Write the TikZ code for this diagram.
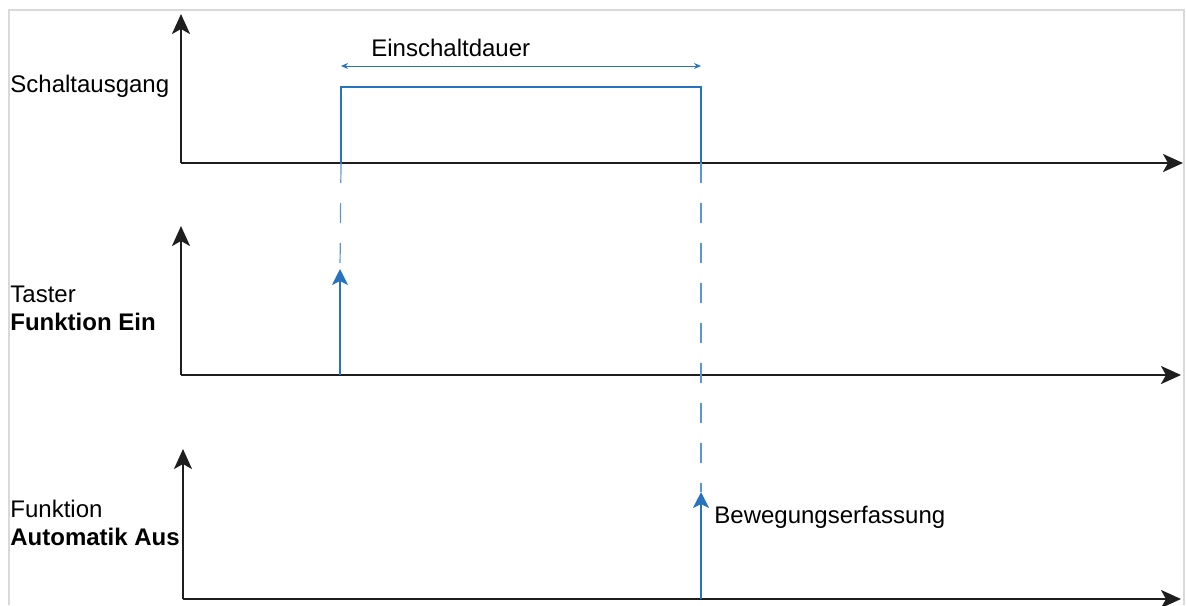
\documentclass[tikz,border=0pt]{standalone}
\usepackage{fontspec}
\setmainfont{Liberation Sans}
\usetikzlibrary{arrows.meta}
\definecolor{sigblue}{RGB}{40,115,190}
\definecolor{guideblue}{RGB}{90,150,210}
\definecolor{framegray}{RGB}{217,217,217}
\definecolor{axisblack}{RGB}{30,30,30}
\tikzset{
  axisline/.style={draw=axisblack, line width=1.2pt, -{Stealth[length=10pt,width=9pt,inset=2.5pt]}},
  pulse/.style={draw=sigblue, line width=1pt},
  trig/.style={draw=sigblue, line width=1pt, -{Stealth[length=8pt,width=8pt,inset=2pt]}},
  guide/.style={draw=guideblue, line width=0.6pt, dash pattern=on 10pt off 10pt},
  span/.style={draw=sigblue, line width=0.5pt, {Stealth[length=3.5pt,width=3pt]}-{Stealth[length=3.5pt,width=3pt]}},
  lbl/.style={font=\fontsize{12pt}{14pt}\selectfont, inner sep=0pt, anchor=base west},
}
\begin{document}
\begin{tikzpicture}[x=0.5pt,y=-0.5pt]
\useasboundingbox (0,0) rectangle (1186,605);
% frame
\draw[framegray, line width=1pt] (9,605) -- (9,10) -- (1184,10) -- (1184,605);

% axis coordinates
\coordinate (o1) at (181,163);
\coordinate (y1) at (181,14);
\coordinate (x1) at (1183,163);
\coordinate (o2) at (181,375);
\coordinate (y2) at (181,226);
\coordinate (x2) at (1181,375);
\coordinate (o3) at (183,599);
\coordinate (y3) at (183,449);
\coordinate (x3) at (1181,599);

\draw[axisline] (o1) -- (y1);
\draw[axisline] (o1) -- (x1);
\draw[axisline] (o2) -- (y2);
\draw[axisline] (o2) -- (x2);
\draw[axisline] (o3) -- (y3);
\draw[axisline] (o3) -- (x3);

% pulse
\coordinate (pa) at (341,163);
\coordinate (pb) at (341,87);
\coordinate (pc) at (701,87);
\coordinate (pd) at (701,163);
\draw[pulse] (pa) -- (pb) -- (pc) -- (pd);

% duration arrow
\coordinate (da) at (341,66);
\coordinate (db) at (701,66);
\draw[span] (da) -- (db);
\node[lbl] (dur) at (371,56) {Einschaltdauer};

% trigger arrows
\coordinate (ta) at (340,375);
\coordinate (tb) at (340,269);
\draw[trig] (ta) -- (tb);
\coordinate (ba) at (701,599);
\coordinate (bb) at (701,492);
\draw[trig] (ba) -- (bb);
\node[lbl] (bew) at (714,523) {Bewegungserfassung};

% guides
\draw[guide] (pa) -- (tb);
\draw[guide] (pd) -- (bb);

% labels
\node[lbl] (l1) at (10,92) {Schaltausgang};
\node[lbl] (l2a) at (10,302) {Taster};
\node[lbl, font=\fontsize{12pt}{14pt}\selectfont\bfseries] (l2b) at (10,330) {Funktion Ein};
\node[lbl] (l3a) at (10,517) {Funktion};
\node[lbl, font=\fontsize{12pt}{14pt}\selectfont\bfseries] (l3b) at (10,545) {Automatik Aus};
\end{tikzpicture}
\end{document}
